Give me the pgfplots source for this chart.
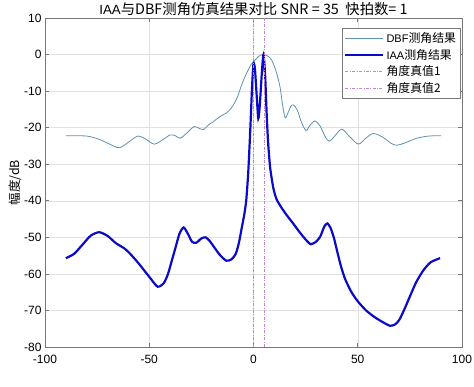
\documentclass[border=0pt]{standalone}
\usepackage{pgfplots}
\pgfplotsset{compat=1.18}
\usepackage{fontspec}
\setmainfont{Liberation Sans}
\newfontfamily\cjk[Scale=1.08]{Noto Sans CJK SC}
\definecolor{dbfc}{RGB}{95,145,175}
\definecolor{iaac}{RGB}{10,10,200}
\definecolor{truec}{RGB}{190,135,205}
\definecolor{gridc}{RGB}{225,225,225}
\definecolor{axc}{RGB}{120,120,120}
\begin{document}
\begin{tikzpicture}
\useasboundingbox (-45pt,-40pt) rectangle (429pt,347pt);
\begin{axis}[
  scale only axis, width=417pt, height=329pt,
  xmin=-100, xmax=100, ymin=-80, ymax=10,
  xtick={-100,-50,0,50,100}, ytick={-80,-70,...,10},
  grid=major, major grid style={gridc, line width=0.5pt},
  axis line style={axc, line width=0.6pt},
  tick style={axc, line width=0.6pt}, tick align=inside,
  major tick length=4pt,
  ticklabel style={font=\fontsize{12}{14}\selectfont},
  xticklabel style={yshift=-5pt},
  /pgf/number format/assume math mode=true,
  title={IAA\cjk{与}DBF\cjk{测角仿真结果对比} SNR = 35\ \ \cjk{快拍数}= 1},
  title style={font=\fontsize{13.3}{15}\selectfont, yshift=-7pt},
  ylabel={\cjk{幅度}/dB}, ylabel style={font=\fontsize{11.5}{13}\selectfont, yshift=-4pt},
  legend cell align=left,
  legend style={at={(0.997,0.97)}, anchor=north east, draw=axc, font=\fontsize{11}{13}\selectfont, row sep=1pt, inner sep=2.5pt},
  legend image code/.code={\draw[#1] (0pt,0pt) -- (38pt,0pt);},
]
\addplot[dbfc, line width=0.8pt, smooth, tension=0.5] coordinates {
(-90,-22.2) (-80,-22.3) (-74,-23.2) (-69,-24.5) (-64.4,-25.5) (-60,-24) (-55.5,-22.3)
(-51.5,-23.2) (-47.6,-24.5) (-43.5,-23.3) (-40,-22) (-37.5,-22.2) (-35.2,-22.9)
(-32,-21.5) (-28.5,-19.7) (-26,-20.2) (-24,-20.5) (-21.5,-19.2) (-19.3,-18.4)
(-17.6,-17.6) (-15,-16.6) (-13,-16) (-10.5,-14.5) (-8,-12) (-5.5,-8) (-3.3,-5.1)
(-1,-2.6) (0.7,-1.5) (2.7,-0.4) (4.7,0) (6.8,-0.4) (8.7,-1.5) (10.8,-4.5) (12.7,-8.8)
(14,-14) (15.2,-17.3) (16.5,-16) (18,-14.1) (19.2,-13.8) (21,-15.2) (23,-18.5)
(25.2,-20.8) (27,-19.4) (29.5,-18.2) (32,-19.6) (34.5,-22.6) (36.4,-23.7) (38.5,-22.6)
(42.3,-20.4) (46,-22.4) (50.3,-24.5) (54,-22.8) (57.5,-21.6) (62,-22.6) (66,-24.3)
(68.7,-24.8) (72,-24.3) (78.3,-22.9) (84,-22.3) (90,-22.2)
};
\addlegendentry{DBF\cjk{测角结果}}
\addplot[iaac, line width=2.2pt, smooth, tension=0.4] coordinates {
(-90,-55.7) (-86,-54.5) (-82,-52) (-78,-49.5) (-74,-48.6) (-70,-49.6) (-66,-51.6)
(-62,-53) (-59,-54.6) (-55,-57.2) (-50,-60.8) (-46,-63.5) (-43,-62.5) (-41,-60)
(-39,-56) (-37.5,-53) (-35.5,-49) (-33.5,-47.3) (-31.5,-49) (-29.5,-51.2) (-27.5,-51.5)
(-25,-50.3) (-23,-50) (-21,-51) (-19,-52.6) (-16,-54.9) (-13,-56.4) (-10.5,-56)
(-8.5,-54.5) (-7,-51.5) (-5.5,-47) (-4.5,-44) (-3.5,-40) (-2.5,-32) (-1.5,-20)
(-0.7,-9) (0,-2.5) (0.7,-4) (1.5,-11) (2.3,-17.5) (3,-14) (4,-5) (4.8,0) (5.6,-6)
(6.3,-16) (7,-24) (8,-31) (9.5,-36.5) (11,-39.5) (13,-41.5) (15.5,-43.6) (19,-46.2)
(22,-48.5) (25,-50.6) (27.5,-51.9) (30,-51.2) (32,-49.8) (34,-47) (35.5,-46.2)
(37,-47.5) (38.5,-50) (40,-53.5) (42,-58) (44,-61.5) (47,-65) (50,-67.5) (54,-70)
(58,-71.8) (62,-73.2) (65.5,-74.2) (68,-73.8) (70,-72.5) (72.5,-69.5) (75,-66.2)
(78,-62.3) (81.5,-59) (85,-56.8) (89.5,-55.7)
};
\addlegendentry{IAA\cjk{测角结果}}
\addplot[truec, line width=0.6pt, dash pattern=on 3pt off 1.5pt on 0.8pt off 1.5pt] coordinates {(0,-80) (0,10)};
\addlegendentry{\cjk{角度真值}1}
\addplot[truec, line width=0.6pt, dash pattern=on 3pt off 1.5pt on 0.8pt off 1.5pt] coordinates {(5,-80) (5,10)};
\addlegendentry{\cjk{角度真值}2}
\end{axis}
\end{tikzpicture}
\end{document}
